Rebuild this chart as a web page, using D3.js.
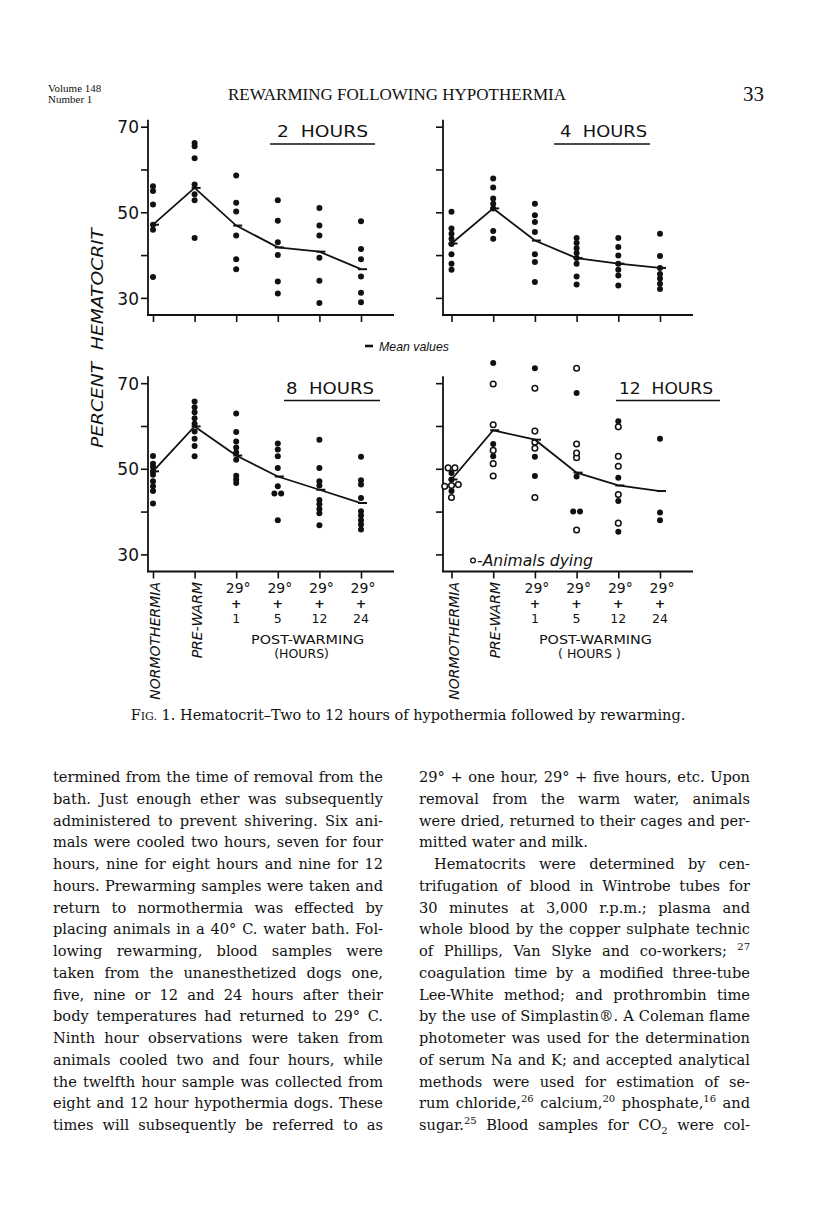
<!DOCTYPE html>
<html>
<head>
<meta charset="utf-8">
<title>Rewarming following hypothermia - Fig. 1</title>
<script src="https://cdn.jsdelivr.net/npm/d3@7/dist/d3.min.js"></script>
<style>
  body { margin: 0; background: #fff; }
  svg { display: block; }
</style>
</head>
<body>
<div id="page"></div>
<script>
// values (percent hematocrit)
var categories = ['NORMOTHERMIA', 'PRE-WARM', '1', '5', '12', '24'];
var postPrefix = '29°';
var yTickValues = [30, 40, 50, 60, 70];
var yTickLabels = [30, 50, 70];
var panelTitles = ['2  HOURS', '4  HOURS', '8  HOURS', '12  HOURS'];

var dots_2h = [
  [56.1, 55, 51.8, 47.1, 45.9, 34.9],
  [66.2, 65.4, 62.6, 56.5, 54.2, 52.8, 44],
  [58.6, 52.2, 50.2, 44.6, 39, 36.7],
  [52.8, 48, 43, 40, 33.8, 31],
  [51, 46.9, 44.6, 39.4, 34, 28.8],
  [47.9, 41.4, 39, 35, 31.2, 29]
];
var means_2h = [47.1, 55.7, 46.9, 41.8, 40.8, 36.7];

var dots_4h = [
  [50.1, 46.2, 45, 43.8, 42.6, 40.2, 38, 36.6],
  [57.9, 55.8, 53.2, 52, 50.9, 45.6, 43.8],
  [52, 49.3, 47.7, 45.4, 40.2, 38.4, 33.7],
  [44, 42.8, 41.6, 40.5, 39.3, 38, 35, 33.1],
  [44, 41.9, 39.9, 38, 36.6, 35.2, 32.9],
  [45, 39.8, 37, 35.6, 34.5, 33.3, 32.1]
];
var means_4h = [42.7, 50.9, 43.4, 39.3, 38, 37];

var dots_8h = [
  [53, 51.2, 50.4, 49.4, 48.6, 47.1, 45.9, 44.8, 41.9],
  [65.7, 64.4, 63.2, 61.8, 60.5, 58.7, 57, 55.3, 52.9],
  [62.9, 58.6, 56.4, 55, 53.8, 52.1, 48.4, 47.5, 46.7],
  [55.9, 54.5, 52.9, 50.2, 45.9, 44.2, 44.2, 38],
  [56.8, 50.2, 47.1, 46.1, 42.7, 41.7, 40.6, 39.6, 36.8],
  [52.8, 47.3, 46.3, 43.2, 40.1, 39.1, 38, 37, 35.8]
];
var means_8h = [49.4, 59.9, 53.1, 48.2, 45.1, 42];

// 12 hours: filled = survivors, open = animals dying
var dots_12h_filled = [
  [49, 47.5, 44.8],
  [74.7, 55.8, 52.9],
  [73.5, 52.8, 48.3],
  [67.7, 48.2, 40, 40],
  [61.1, 47.9, 42.5, 35.3],
  [57, 39.8, 38]
];
var dots_12h_open = [
  [50.2, 50.2, 46.3, 46.1, 45.9, 43.3],
  [69.8, 60.3, 54.3, 51.2, 48.3],
  [68.8, 58.8, 56.2, 54.8, 43.3],
  [73.5, 55.8, 53.7, 52.6, 35.7],
  [59.8, 52.9, 50.6, 44, 37.3],
  []
];
var means_12h = [47.5, 59, 56.8, 49.1, 46.1, 44.8];

var leftLines = [
  'termined from the time of removal from the',
  'bath. Just enough ether was subsequently',
  'administered to prevent shivering. Six ani-',
  'mals were cooled two hours, seven for four',
  'hours, nine for eight hours and nine for 12',
  'hours. Prewarming samples were taken and',
  'return to normothermia was effected by',
  'placing animals in a 40° C. water bath. Fol-',
  'lowing rewarming, blood samples were',
  'taken from the unanesthetized dogs one,',
  'five, nine or 12 and 24 hours after their',
  'body temperatures had returned to 29° C.',
  'Ninth hour observations were taken from',
  'animals cooled two and four hours, while',
  'the twelfth hour sample was collected from',
  'eight and 12 hour hypothermia dogs. These',
  'times will subsequently be referred to as'
];
var rightLines = [
  '29° + one hour, 29° + five hours, etc. Upon',
  'removal from the warm water, animals',
  'were dried, returned to their cages and per-',
  'mitted water and milk.',
  'Hematocrits were determined by cen-',
  'trifugation of blood in Wintrobe tubes for',
  '30 minutes at 3,000 r.p.m.; plasma and',
  'whole blood by the copper sulphate technic',
  'of Phillips, Van Slyke and co-workers; ^27',
  'coagulation time by a modified three-tube',
  'Lee-White method; and prothrombin time',
  'by the use of Simplastin®. A Coleman flame',
  'photometer was used for the determination',
  'of serum Na and K; and accepted analytical',
  'methods were used for estimation of se-',
  'rum chloride,^26 calcium,^20 phosphate,^16 and',
  'sugar.^25 Blood samples for CO_2 were col-'
];

// ---- layout ----
var W = 816, H = 1224;
var sans = '"DejaVu Sans", sans-serif';
var narrowSans = '"Liberation Sans", sans-serif';
var serif = '"Liberation Serif", serif';
var bookSerif = '"DejaVu Serif", serif';
var ink = '#111';
var pxPerUnit = 4.28;
var rows = [315, 571.5];
var cols = [{x0: 148, first: 153, last: 361}, {x0: 443, first: 451.5, last: 660}];

var panels = [
  {title: panelTitles[0], filled: dots_2h, open: [], means: means_2h, row: 0, col: 0, tx: 277, tw: 91, ul: [270, 375]},
  {title: panelTitles[1], filled: dots_4h, open: [], means: means_4h, row: 0, col: 1, tx: 560, tw: 87, ul: [554, 650]},
  {title: panelTitles[2], filled: dots_8h, open: [], means: means_8h, row: 1, col: 0, tx: 286, tw: 88, ul: [284, 380]},
  {title: panelTitles[3], filled: dots_12h_filled, open: dots_12h_open, means: means_12h, row: 1, col: 1, tx: 619, tw: 94, ul: [616, 720], legend: true}
];

var svg = d3.select('#page').append('svg')
  .attr('width', W).attr('height', H)
  .style('background', '#fff');

panels.forEach(function(p) {
  var c = cols[p.col], axisY = rows[p.row];
  var y = d3.scaleLinear().domain([26, 70]).range([axisY, axisY - 44 * pxPerUnit]);
  var x = d3.scalePoint().domain(categories).range([c.first, c.last]);
  var g = svg.append('g');

  // axis lines
  g.append('line').attr('x1', c.x0).attr('x2', c.x0)
    .attr('y1', axisY).attr('y2', y(71.6))
    .attr('stroke', ink).attr('stroke-width', 1.8);
  g.append('line').attr('x1', c.x0 - 1).attr('x2', c.last + 33)
    .attr('y1', axisY).attr('y2', axisY)
    .attr('stroke', ink).attr('stroke-width', 1.8);

  var ya = g.append('g').attr('transform', 'translate(' + c.x0 + ',0)')
    .call(d3.axisLeft(y).tickValues(yTickValues).tickSize(7).tickPadding(2)
      .tickFormat(function(d) { return p.col === 0 && yTickLabels.indexOf(d) >= 0 ? d : ''; }));
  ya.select('.domain').remove();
  ya.selectAll('line').attr('stroke', ink).attr('stroke-width', 1.6);
  ya.selectAll('text').attr('fill', ink).style('font-family', sans).style('font-size', '17px')
    .attr('dy', '0.36em');

  var xa = g.append('g').attr('transform', 'translate(0,' + axisY + ')')
    .call(d3.axisBottom(x).tickSize(7).tickFormat(''));
  xa.select('.domain').remove();
  xa.selectAll('line').attr('stroke', ink).attr('stroke-width', 1.6);

  // title
  g.append('text').attr('x', p.tx).attr('y', axisY - 178)
    .attr('textLength', p.tw).attr('lengthAdjust', 'spacingAndGlyphs')
    .style('white-space', 'pre').style('font-family', sans).style('font-size', '16.5px')
    .attr('fill', ink).text(p.title);
  g.append('line').attr('x1', p.ul[0]).attr('x2', p.ul[1])
    .attr('y1', axisY - 171).attr('y2', axisY - 171)
    .attr('stroke', ink).attr('stroke-width', 1.6);

  // points: nearly equal values in one column are put side by side
  var pts = [];
  categories.forEach(function(cat, i) {
    var col = [];
    (p.filled[i] || []).forEach(function(v) { col.push({v: v, open: false}); });
    (p.open[i] || []).forEach(function(v) { col.push({v: v, open: true}); });
    col.sort(function(a, b) { return a.v - b.v; });
    var groups = [];
    col.forEach(function(d) {
      var last = groups[groups.length - 1];
      if (last && d.v - last[last.length - 1].v < 0.6) last.push(d); else groups.push([d]);
    });
    groups.forEach(function(gr) {
      gr.forEach(function(d, k) {
        d.cx = x(cat) + (k - (gr.length - 1) / 2) * 6.8;
        d.cy = y(d.v);
        pts.push(d);
      });
    });
  });

  g.selectAll('circle.pt').data(pts).enter().append('circle')
    .attr('class', 'pt')
    .attr('cx', function(d) { return d.cx; })
    .attr('cy', function(d) { return d.cy; })
    .attr('r', function(d) { return d.open ? 2.8 : 3; })
    .attr('fill', function(d) { return d.open ? '#fff' : ink; })
    .attr('stroke', ink)
    .attr('stroke-width', function(d) { return d.open ? 1.5 : 0; });

  // mean line and mean markers
  var line = d3.line()
    .x(function(d, i) { return x(categories[i]); })
    .y(function(d) { return y(d); });
  g.append('path').datum(p.means).attr('d', line)
    .attr('fill', 'none').attr('stroke', ink).attr('stroke-width', 1.8);
  g.selectAll('line.mean').data(p.means).enter().append('line')
    .attr('class', 'mean')
    .attr('x1', function(d, i) { return x(categories[i]) - 3; })
    .attr('x2', function(d, i) { return x(categories[i]) + 6; })
    .attr('y1', function(d) { return y(d); })
    .attr('y2', function(d) { return y(d); })
    .attr('stroke', ink).attr('stroke-width', 2);

  if (p.legend) {
    g.append('circle').attr('cx', c.x0 + 30).attr('cy', axisY - 11).attr('r', 2.4)
      .attr('fill', '#fff').attr('stroke', ink).attr('stroke-width', 1.3);
    g.append('text').attr('x', c.x0 + 34).attr('y', axisY - 6)
      .attr('textLength', 116).attr('lengthAdjust', 'spacingAndGlyphs')
      .style('font-family', sans).style('font-size', '15px').style('font-style', 'italic')
      .attr('fill', ink).text('-Animals dying');
  }

  // category labels only under the lower row
  if (p.row !== 1) return;
  categories.forEach(function(cat, i) {
    var cx = x(cat);
    if (i < 2) {
      g.append('text')
        .attr('transform', 'translate(' + (cx + 2) + ',' + (axisY + 10.5) + ') rotate(-90)')
        .attr('text-anchor', 'end').attr('dy', '0.36em')
        .style('font-family', sans).style('font-size', '14px').style('font-style', 'italic')
        .attr('fill', ink).text(cat);
    } else {
      var t = g.append('g').style('font-family', sans)
        .attr('fill', ink).attr('text-anchor', 'middle');
      t.append('text').attr('x', cx + 2).attr('y', axisY + 21.5).style('font-size', '14px').text(postPrefix);
      t.append('text').attr('x', cx).attr('y', axisY + 36.5).style('font-size', '12.5px')
        .style('font-weight', 'bold').text('+');
      t.append('text').attr('x', cx).attr('y', axisY + 51.5).style('font-size', '12.5px').text(cat);
    }
  });
  var mid = (x(categories[2]) + x(categories[5])) / 2 + (p.col === 0 ? 9 : -2);
  g.append('text').attr('x', mid).attr('y', axisY + 72.5).attr('text-anchor', 'middle')
    .attr('textLength', 113).attr('lengthAdjust', 'spacingAndGlyphs')
    .style('font-family', sans).style('font-size', '12.5px').attr('fill', ink).text('POST-WARMING');
  g.append('text').attr('x', mid - 6).attr('y', axisY + 86.5).attr('text-anchor', 'middle')
    .style('font-family', sans).style('font-size', '12.5px').attr('fill', ink)
    .style('white-space', 'pre').text(p.col === 0 ? '(HOURS)' : '( HOURS )');
});

// shared labels
svg.append('text')
  .attr('transform', 'translate(97,338) rotate(-90)')
  .attr('text-anchor', 'middle').attr('dy', '0.36em')
  .attr('textLength', 220).attr('lengthAdjust', 'spacingAndGlyphs')
  .style('white-space', 'pre').style('font-family', sans).style('font-size', '16px')
  .style('font-style', 'italic').attr('fill', ink).text('PERCENT  HEMATOCRIT');

svg.append('line').attr('x1', 365).attr('x2', 373).attr('y1', 346).attr('y2', 346)
  .attr('stroke', ink).attr('stroke-width', 2.6);
svg.append('text').attr('x', 379).attr('y', 351)
  .attr('textLength', 70).attr('lengthAdjust', 'spacingAndGlyphs')
  .style('font-family', narrowSans).style('font-size', '13.5px').style('font-style', 'italic')
  .attr('fill', ink).text('Mean values');

// running head
var head = svg.append('g').style('font-family', serif).attr('fill', ink);
head.append('text').attr('x', 48).attr('y', 92).style('font-size', '11px').text('Volume 148');
head.append('text').attr('x', 48).attr('y', 103).style('font-size', '11px').text('Number 1');
head.append('text').attr('x', 397).attr('y', 100).attr('text-anchor', 'middle')
  .style('font-size', '17px').text('REWARMING FOLLOWING HYPOTHERMIA');
head.append('text').attr('x', 764).attr('y', 101).attr('text-anchor', 'end')
  .style('font-size', '21px').text('33');

// caption
var cap = svg.append('text').attr('x', 408).attr('y', 720).attr('text-anchor', 'middle')
  .style('font-family', bookSerif).style('font-size', '14.5px').attr('fill', ink);
cap.append('tspan').text('F');
cap.append('tspan').style('font-size', '11px').text('IG.');
cap.append('tspan').text(' 1. Hematocrit\u2013Two to 12 hours of hypothermia followed by rewarming.');

// body text, justified line by line
var body = svg.append('g').style('font-family', bookSerif).style('font-size', '14.6px').attr('fill', ink);
function setLine(str, x, y, width, justify) {
  var words = str.split(' ');
  var nodes = words.map(function(w) {
    var t = body.append('text').attr('y', y);
    var shift = 0;
    w.split(/(\^\d+|_\d+)/).filter(function(s) { return s.length; }).forEach(function(s) {
      var target = s[0] === '^' ? -6 : (s[0] === '_' ? 4 : 0);
      var ts = t.append('tspan').attr('dy', target - shift);
      if (target !== 0) ts.style('font-size', '10px').text(s.slice(1)); else ts.text(s);
      shift = target;
    });
    return t;
  });
  var widths = nodes.map(function(t) { return t.node().getComputedTextLength(); });
  var total = d3.sum(widths);
  var gap = justify && words.length > 1 ? (width - total) / (words.length - 1) : 4.6;
  var cx = x;
  nodes.forEach(function(t, i) { t.attr('x', cx); cx += widths[i] + gap; });
}
var lineStep = 21.75, firstBase = 782;
leftLines.forEach(function(s, i) {
  setLine(s, 53, firstBase + i * lineStep, 330, true);
});
rightLines.forEach(function(s, i) {
  var indent = i === 4 ? 15 : 0;
  setLine(s, 419 + indent, firstBase + i * lineStep, 331 - indent, i !== 3);
});
</script>
</body>
</html>
